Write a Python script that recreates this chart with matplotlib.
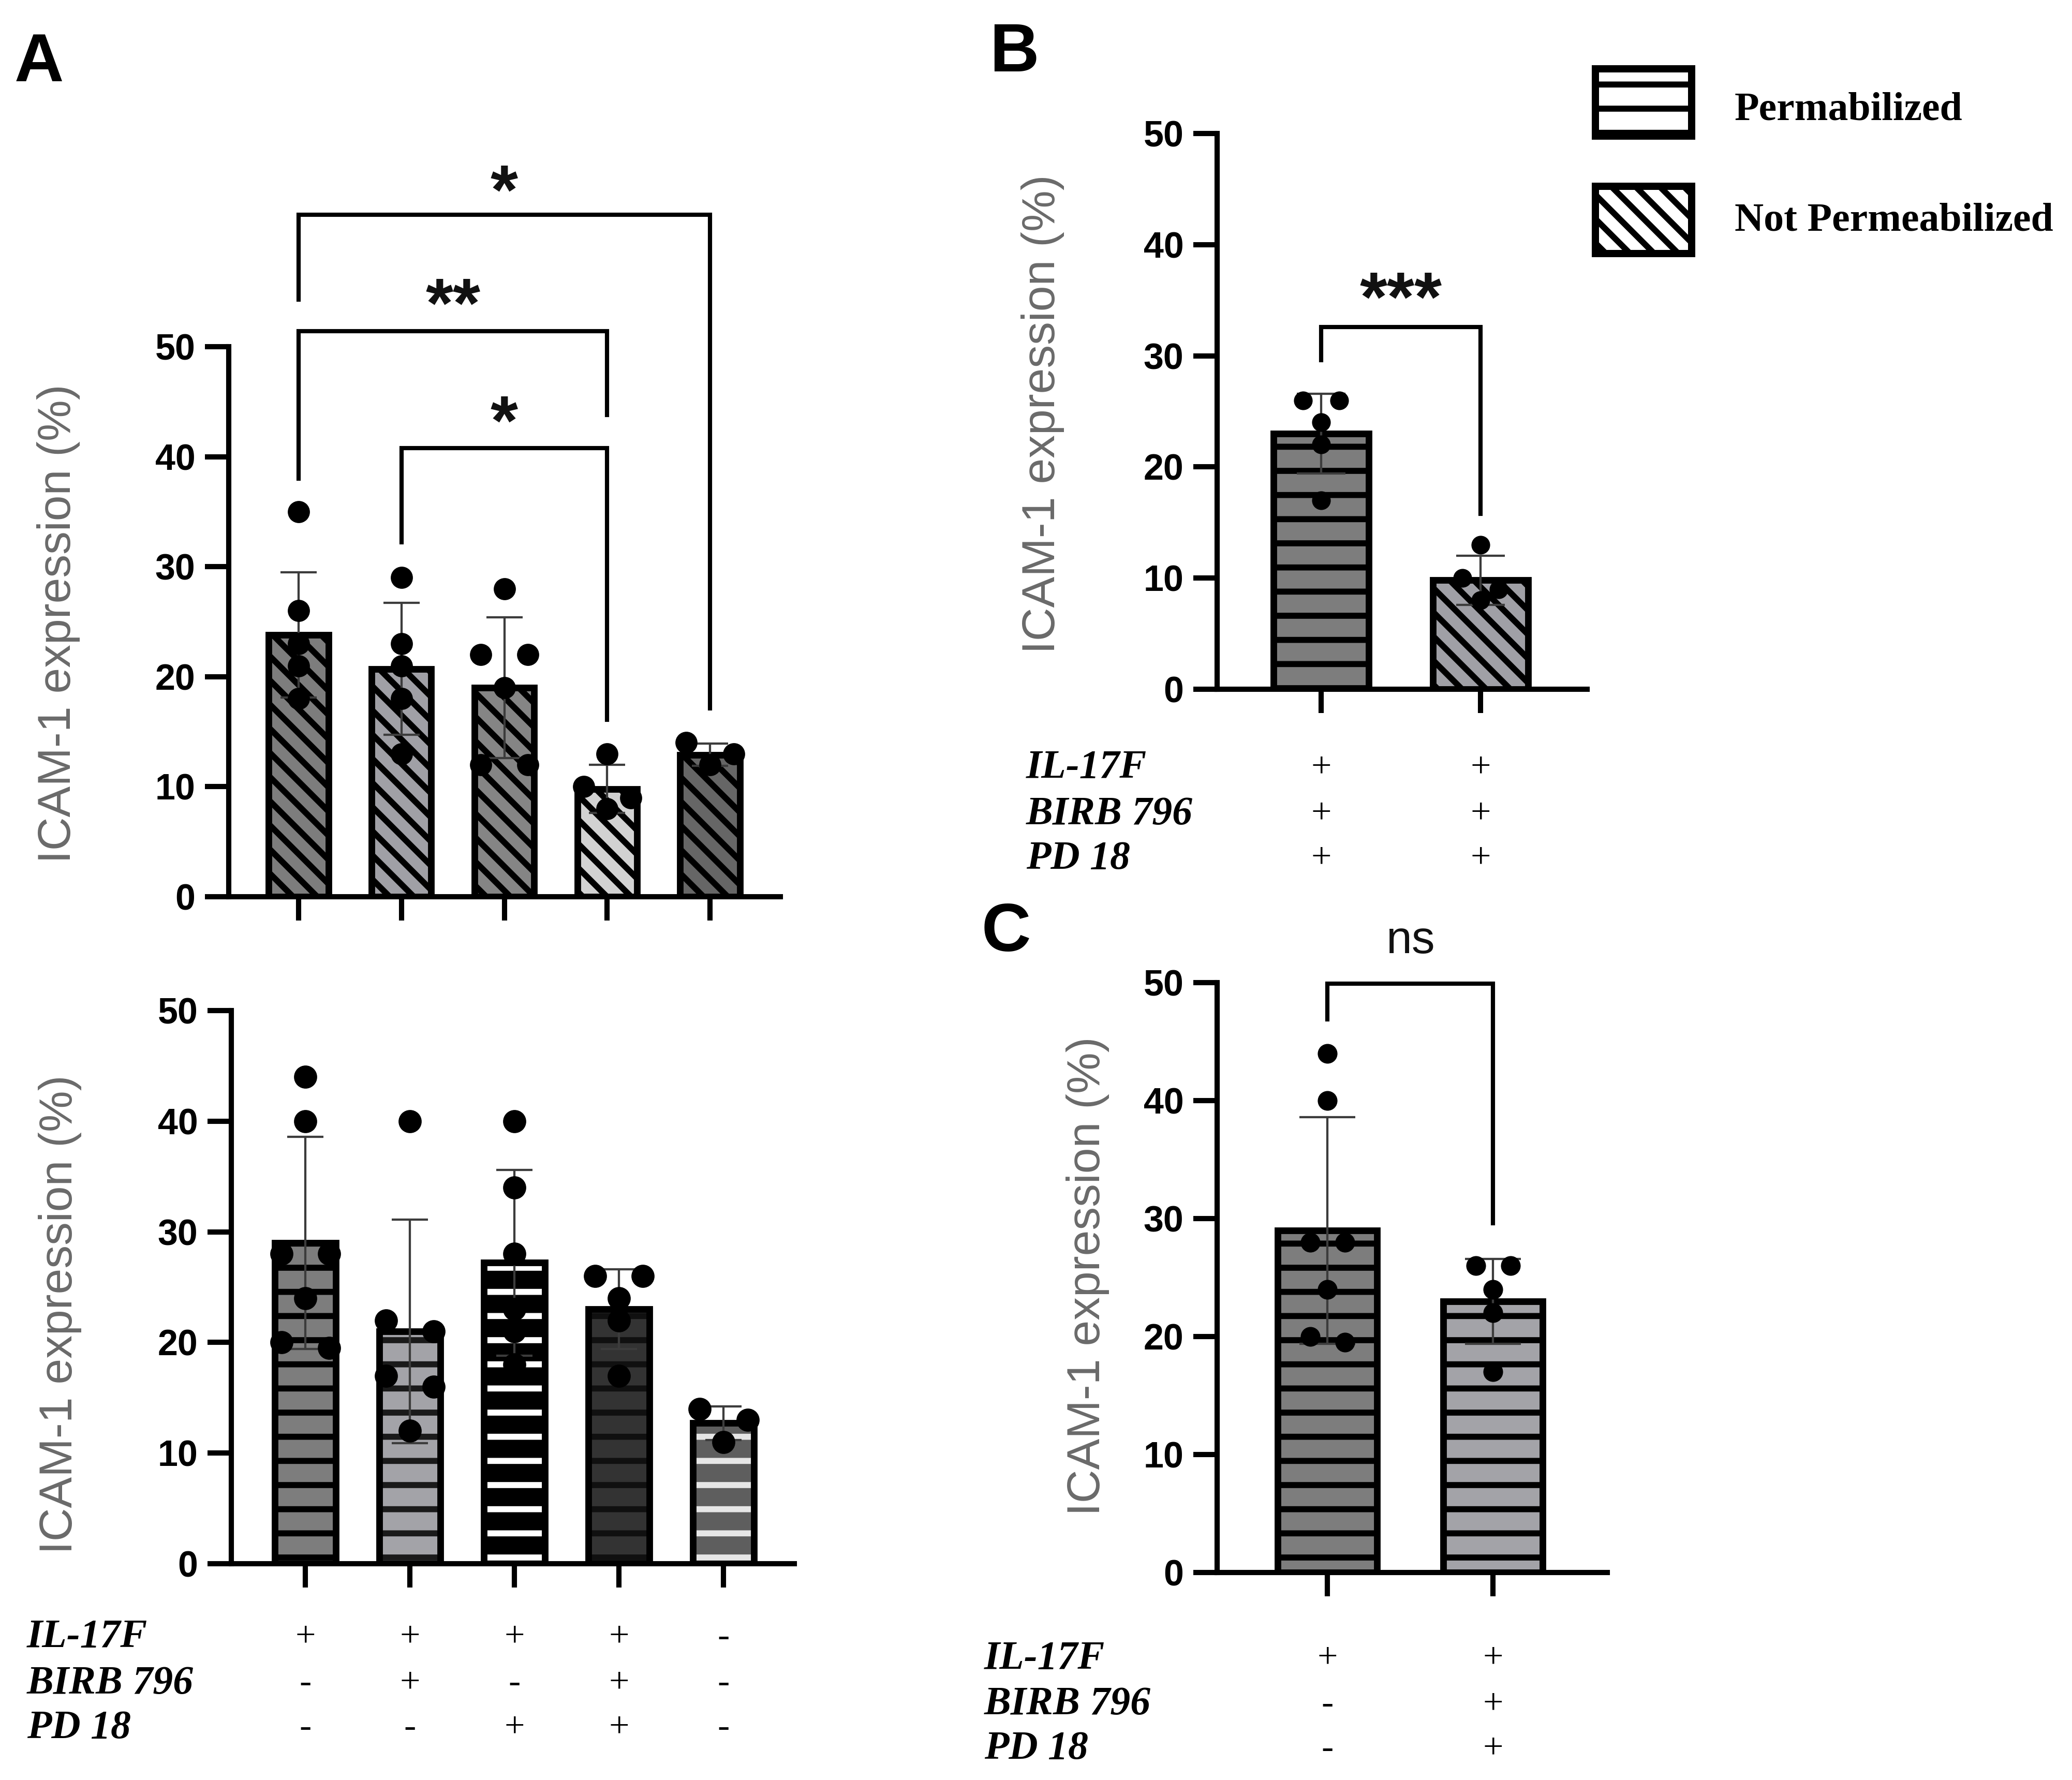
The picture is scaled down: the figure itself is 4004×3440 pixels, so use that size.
import matplotlib
matplotlib.use('Agg')
import matplotlib.pyplot as plt
import matplotlib.transforms as mtransforms
from matplotlib.patches import Rectangle
import numpy as np

# ---- datos ----
# A (arriba): no permeabilizadas
np_means = [23.8, 20.7, 19.0, 9.8, 12.9]
np_sd = [5.7, 6.0, 6.4, 2.2, 1.0]
np_points = [[35, 26, 23, 21, 18], [29, 23, 21, 18, 13], [28, 22, 22, 19, 12, 12],
             [13, 10, 9, 8], [14, 13, 12]]

# A (abajo): permeabilizadas
p_means = [29.0, 21.0, 27.2, 23.0, 12.7]
p_sd = [9.6, 10.1, 8.4, 3.6, 1.5]
p_points = [[44, 40, 28, 28, 24, 20, 19.5], [40, 22, 21, 17, 16, 12],
            [40, 34, 28, 23, 21, 18], [26, 26, 24, 22, 17], [14, 13, 11]]

row_names = ['IL-17F', 'BIRB 796', 'PD 18']
signs_A = [['+', '+', '+', '+', '-'], ['-', '+', '-', '+', '-'], ['-', '-', '+', '+', '-']]
signs_B = [['+', '+'], ['+', '+'], ['+', '+']]
signs_C = [['+', '+'], ['-', '+'], ['-', '+']]

# B: permeabilizada vs no permeabilizada (IL-17F + BIRB + PD)
B_means = [p_means[3], np_means[3]]
B_sd = [p_sd[3], np_sd[3]]
B_points = [p_points[3], np_points[3]]

# C: IL-17F vs IL-17F + BIRB + PD (permeabilizadas)
C_means = [p_means[0], p_means[3]]
C_sd = [p_sd[0], p_sd[3]]
C_points = [p_points[0], p_points[3]]

# comparaciones: (barra1, barra2, altura, fin izq, fin der, etiqueta, centro etiqueta)
A_brackets = [(0, 4, 62.0, 54.3, 17.1, '*', 65.0),
              (0, 3, 51.4, 38.0, 43.8, '**', 54.7),
              (1, 3, 40.8, 32.2, 16.1, '*', 44.0)]
B_brackets = [(0, 1, 32.6, 29.6, 15.8, '***', 36.0)]
C_brackets = [(0, 1, 49.9, 46.9, 29.6, 'ns', 53.5)]

W, H, DPI = 4004, 3440, 280
plt.rcParams['font.family'] = ['Liberation Sans', 'DejaVu Sans']
plt.rcParams['hatch.linewidth'] = 3.0

fig = plt.figure(figsize=(W / DPI, H / DPI), dpi=DPI)


def fx(x):
    return x / W


def fy(y):
    return 1 - y / H


def box(left, right, y0, y50):
    # rectangulo de ejes a partir de pixeles de la imagen
    return [fx(left), fy(y0), (right - left) / W, (y0 - y50) / H]


def spread(vals, step, thr=1.5):
    """Reparte en horizontal los puntos con valores parecidos."""
    order = sorted(range(len(vals)), key=lambda i: -vals[i])
    rows = []
    for i in order:
        if rows and rows[-1][0] - vals[i] < thr:
            rows[-1][1].append(i)
        else:
            rows.append([vals[i], [i]])
    offs = np.zeros(len(vals))
    for _, idx in rows:
        n = len(idx)
        if n > 1:
            for k, i in enumerate(idx):
                offs[i] = (-1 + 2 * k / (n - 1)) * step
    return offs


def panel(rect, xlim, means, sds, points, faces, hcols, hatches,
          width, step, cap, ms):
    ax = fig.add_axes(rect)
    xs = np.arange(len(means))
    for i, x in enumerate(xs):
        ax.bar(x, means[i], width, color=faces[i], edgecolor=hcols[i],
               hatch=hatches[i], linewidth=0, zorder=1)
        ax.bar(x, means[i], width, facecolor='none', edgecolor='black',
               linewidth=3.3, zorder=2)
        ax.errorbar(x, means[i], yerr=sds[i], fmt='none', ecolor='#3c3c3c',
                    elinewidth=1.1, capsize=cap, capthick=1.1, zorder=3)
        pts = np.array(points[i], dtype=float)
        ax.plot(x + spread(points[i], step), pts, 'o', color='black', ms=ms,
                mew=0, zorder=4, clip_on=False)
    ax.set_xlim(*xlim)
    ax.set_ylim(0, 50)
    ax.set_yticks(range(0, 51, 10))
    ax.set_xticks(xs)
    ax.set_xticklabels([])
    for s in ['top', 'right']:
        ax.spines[s].set_visible(False)
    for s in ['left', 'bottom']:
        ax.spines[s].set_linewidth(2.6)
    ax.tick_params(width=2.6, length=11.8, direction='out', pad=4.8,
                   labelsize=18)
    for lab in ax.get_yticklabels():
        lab.set_fontweight('bold')
    return ax


def brackets(ax, specs, fsize, weight, mid_em):
    off = mtransforms.offset_copy(ax.transData, fig=fig, y=-mid_em * fsize,
                                  units='points')
    for x0, x1, top, yl, yr, lab, yc in specs:
        ax.plot([x0, x0, x1, x1], [yl, top, top, yr], color='black', lw=2.1,
                clip_on=False, solid_joinstyle='miter', zorder=5)
        ax.text((x0 + x1) / 2, yc, lab, ha='center', va='baseline',
                fontsize=fsize, fontweight=weight, transform=off,
                color='#111111')


def table(ax, signs, rows_y, label_x):
    tr = mtransforms.blended_transform_factory(ax.transData, fig.transFigure)
    for r, name in enumerate(row_names):
        fig.text(fx(label_x), fy(rows_y[r]), name, ha='left', va='center',
                 family='Liberation Serif', style='italic', weight='bold',
                 fontsize=20)
        for i, s in enumerate(signs[r]):
            ax.text(i, fy(rows_y[r]), s, transform=tr, ha='center',
                    va='center', family='Liberation Serif', fontsize=18)


def ylabel(x, y):
    fig.text(fx(x), fy(y), 'ICAM-1 expression (%)', rotation=90,
             ha='center', va='center', fontsize=23, color='#6a6a6a')


diag = '\\\\'
horiz = '-'

# --- A arriba ---
axA1 = panel(box(442, 1508, 1733, 670), (-0.679, 4.684),
             np_means, np_sd, np_points,
             ['#7d7d7d', '#a0a0a6', '#858585', '#d2d2d2', '#666666'],
             ['black'] * 5, [diag] * 5, 0.58, 0.23, 9, 11)
brackets(axA1, A_brackets, 35, 'bold', 0.45)
ylabel(113, 1205)

# --- A abajo ---
axA2 = panel(box(447, 1535, 3022, 1953), (-0.708, 4.678),
             p_means, p_sd, p_points,
             ['#7d7d7d', '#a3a3a8', '#000000', '#333333', '#5e5e5e'],
             ['black', '#1a1a1a', 'white', '#101010', '#e6e6e6'],
             [horiz] * 5, 0.58, 0.23, 9, 11.5)
ylabel(116, 2540)
table(axA2, signs_A, [3165, 3254, 3340], 52)

# --- B ---
axB = panel(box(2352, 3067, 1332, 258), (-0.653, 1.669),
            B_means, B_sd, B_points, ['#7d7d7d', '#a0a0a6'],
            ['black', 'black'], [horiz, diag], 0.60, 0.115, 12, 9.3)
brackets(axB, B_brackets, 35, 'bold', 0.45)
ylabel(2015, 800)
table(axB, signs_B, [1485, 1574, 1660], 1983)

# --- C ---
axC = panel(box(2352, 3106, 3039, 1899), (-0.666, 1.69),
            C_means, C_sd, C_points, ['#7d7d7d', '#a3a3a8'],
            ['black', 'black'], [horiz, horiz], 0.60, 0.105, 14, 9.8)
brackets(axC, C_brackets, 23, 'normal', 0.26)
ylabel(2102, 2466)
table(axC, signs_C, [3206, 3295, 3381], 1902)

# --- leyenda ---
for ytop, htch, txt, yt in [(133, horiz, 'Permabilized', 213),
                            (360, diag, 'Not Permeabilized', 427)]:
    fig.add_artist(Rectangle((fx(3083), fy(ytop + 130)), 186 / W, 130 / H,
                             transform=fig.transFigure, facecolor='white',
                             edgecolor='black', lw=3.6, hatch=htch))
    fig.text(fx(3352), fy(yt), txt, ha='left', va='center',
             family='Liberation Serif', weight='bold', fontsize=20)

# --- letras de panel ---
for letter, x, y in [('A', 28, 157), ('B', 1912, 138), ('C', 1897, 1838)]:
    fig.text(fx(x), fy(y), letter, ha='left', va='baseline', fontsize=34,
             fontweight='bold')

fig.savefig('out.png', dpi=DPI)
